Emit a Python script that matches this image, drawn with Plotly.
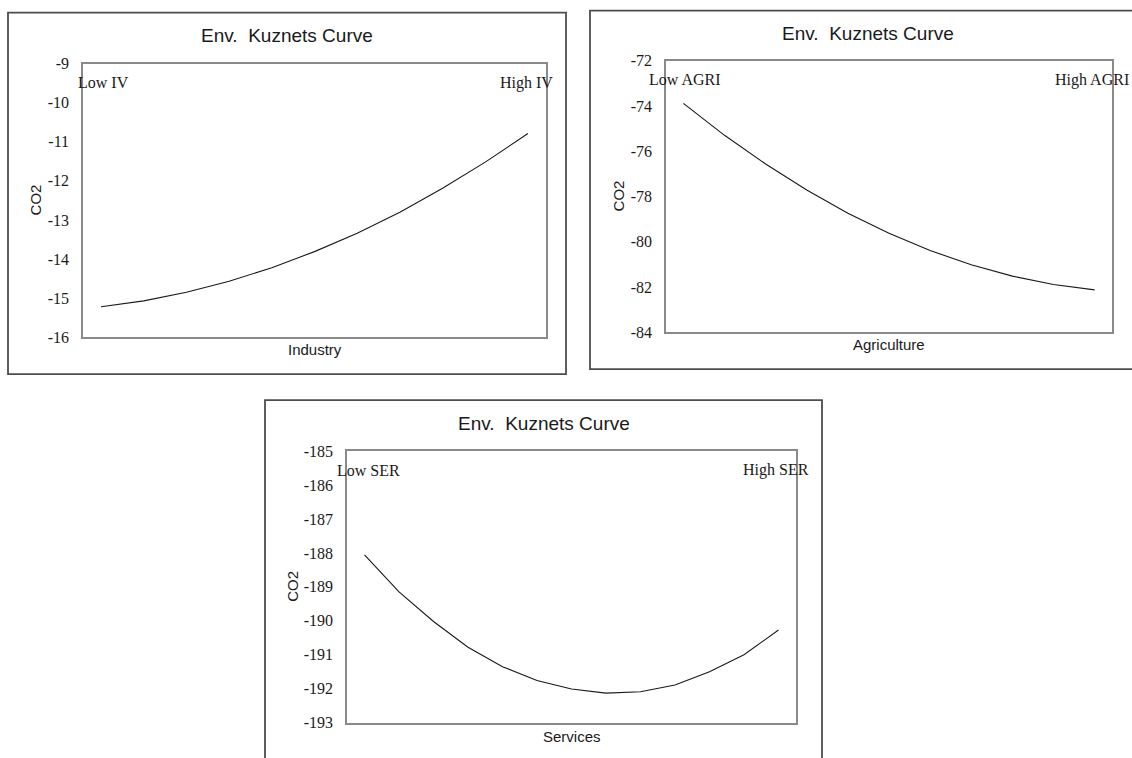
import plotly.graph_objects as go

# ---- data ----
industry_level = [0, 1, 2, 3, 4, 5, 6, 7, 8, 9, 10]
industry_co2 = [-15.22, -15.07, -14.85, -14.57, -14.22, -13.81, -13.34, -12.80, -12.19, -11.52, -10.79]
industry_ticks = [-16, -15, -14, -13, -12, -11, -10, -9]
industry_ticktext = ["-16", "-15", "-14", "-13", "-12", "-11", "-10", "-9"]

agri_level = [0, 1, 2, 3, 4, 5, 6, 7, 8, 9, 10]
agri_co2 = [-73.89, -75.30, -76.57, -77.72, -78.74, -79.63, -80.39, -81.02, -81.52, -81.89, -82.13]
agri_ticks = [-84, -82, -80, -78, -76, -74, -72]
agri_ticktext = ["-84", "-82", "-80", "-78", "-76", "-74", "-72"]

ser_level = [0, 1, 2, 3, 4, 5, 6, 7, 8, 9, 10, 11, 12]
ser_co2 = [-188.06, -189.15, -190.02, -190.78, -191.35, -191.76, -192.01, -192.13,
           -192.09, -191.89, -191.50, -191.00, -190.27]
ser_ticks = [-193, -192, -191, -190, -189, -188, -187, -186, -185]
ser_ticktext = ["-193", "-192", "-191", "-190", "-189", "-188", "-187", "-186", "-185"]

title_text = "Env.\u00a0 Kuznets Curve"
x_titles = ["Industry", "Agriculture", "Services"]
low_labels = ["Low IV", "Low AGRI", "Low SER"]
high_labels = ["High IV", "High AGRI", "High SER"]

W, H = 1132, 758


def px(x):
    return x / W


def py(y):
    y = (y - 7.3) / 0.979  # empirical correction of the vertical placement
    return 1 - y / H


# pixel layout: outer box, plot box
outer = [(8, 12, 566, 374), (590, 10, 1145, 369), (265, 400, 822, 775)]
plot = [(83, 63, 546, 337), (666, 60, 1112, 332), (347, 451, 796, 723)]
title_y = [35, 33, 423]
xt_y = [349, 344, 737]
co2_x = [35, 618, 293]
low_pos = [(76, 82), (647, 79), (335, 470)]
high_pos = [("right", 555, 82), ("right", 1131, 79), ("right", 811, 470)]

fig = go.Figure()
series = [
    (industry_level, industry_co2, 10, industry_ticks, industry_ticktext),
    (agri_level, agri_co2, 10, agri_ticks, agri_ticktext),
    (ser_level, ser_co2, 12, ser_ticks, ser_ticktext),
]

SERIF = "Liberation Serif, Times New Roman, serif"
SANS = "Liberation Sans, Arial, sans-serif"
TXT = "#1a1a1a"

annotations = []
shapes = []
for i, (xs, ys, span, tv, tt) in enumerate(series):
    suffix = "" if i == 0 else str(i + 1)
    fig.add_trace(go.Scatter(x=xs, y=ys, mode="lines",
                             line=dict(color="#1a1a1a", width=1.1),
                             xaxis="x" + suffix, yaxis="y" + suffix,
                             showlegend=False, hoverinfo="skip"))
    l, t, r, b = plot[i]
    pad = 0.0423 * span
    fig.update_layout(**{
        "xaxis" + suffix: dict(domain=[px(l), px(r)], range=[-pad, span + pad],
                               showticklabels=False, ticks="", showgrid=False,
                               zeroline=False, showline=True, mirror=True,
                               linecolor="#8a8a8a", linewidth=1.5,
                               anchor="y" + suffix),
        "yaxis" + suffix: dict(domain=[py(b), py(t)], range=[tv[0], tv[-1]],
                               tickmode="array", tickvals=tv, ticktext=tt,
                               ticks="", showgrid=False, zeroline=False,
                               showline=True, mirror=True, linecolor="#8a8a8a",
                               linewidth=1.5, ticklabelstandoff=9,
                               tickfont=dict(family=SERIF, size=16, color=TXT),
                               anchor="x" + suffix),
    })
    ol, ot, orr, ob = outer[i]
    shapes.append(dict(type="rect", xref="paper", yref="paper",
                       x0=px(ol), x1=px(orr), y0=py(ob), y1=py(ot),
                       line=dict(color="#4d4d4d", width=1.8), layer="below"))
    annotations.append(dict(text=title_text, xref="paper", yref="paper",
                            x=px((ol + min(orr, 1145)) / 2), y=py(title_y[i]),
                            xanchor="center", yanchor="middle", showarrow=False,
                            font=dict(family=SANS, size=19, color=TXT)))
    annotations.append(dict(text=x_titles[i], xref="paper", yref="paper",
                            x=px((l + r) / 2), y=py(xt_y[i]),
                            xanchor="center", yanchor="middle", showarrow=False,
                            font=dict(family=SANS, size=15, color=TXT)))
    annotations.append(dict(text="CO2", xref="paper", yref="paper",
                            x=px(co2_x[i]), y=py((t + b) / 2), textangle=-90,
                            xanchor="center", yanchor="middle", showarrow=False,
                            font=dict(family=SANS, size=15, color=TXT)))
    lx, ly = low_pos[i]
    annotations.append(dict(text=low_labels[i], xref="paper", yref="paper",
                            x=px(lx), y=py(ly), xanchor="left", yanchor="middle",
                            showarrow=False, font=dict(family=SERIF, size=16, color=TXT)))
    ha, hx, hy = high_pos[i]
    annotations.append(dict(text=high_labels[i], xref="paper", yref="paper",
                            x=px(hx), y=py(hy), xanchor=ha, yanchor="middle",
                            showarrow=False, font=dict(family=SERIF, size=16, color=TXT)))

fig.update_layout(width=W, height=H, margin=dict(l=0, r=0, t=0, b=0),
                  paper_bgcolor="white", plot_bgcolor="white",
                  shapes=shapes, annotations=annotations)

fig.write_html("out.html", config={"displayModeBar": False},
               post_script="document.body.style.margin='0';document.body.style.overflow='hidden';")
